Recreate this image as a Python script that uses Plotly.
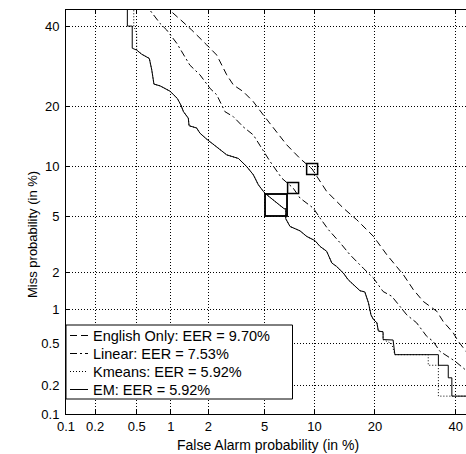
import plotly.graph_objects as go
from statistics import NormalDist

_nd = NormalDist()


def probit(vals):
    return [_nd.inv_cdf(v / 100.0) for v in vals]


# ---- axis ticks (percent) ----
tick_pct = [0.1, 0.2, 0.5, 1, 2, 5, 10, 20, 40]
tick_text = ["0.1", "0.2", "0.5", "1", "2", "5", "10", "20", "40"]
x_range_pct = [0.1, 42.9]
y_range_pct = [0.1, 44.6]

# ---- series (false alarm %, miss %) ----
english_fa = [0.92, 0.98, 1.21, 1.48, 1.94, 2.31, 2.74, 3.06, 3.59, 4.21, 4.91, 5.69, 6.89, 8.27, 9.70,
              11.64, 14.2, 16.5, 19.7, 22.5, 26.3, 28.7, 31.2, 34.8, 36.5, 39.3, 40.7, 42.9, 44.5]
english_miss = [46.5, 44.5, 41.7, 38.9, 34.8, 32.1, 27.1, 24.7, 23.2, 21.0, 18.3, 15.9, 13.1, 11.1, 9.70,
                7.18, 5.65, 4.75, 3.66, 2.71, 1.91, 1.46, 1.17, 0.965, 0.79, 0.626, 0.525, 0.425, 0.36]

linear_fa = [0.62, 0.66, 0.81, 0.92, 1.12, 1.43, 1.72, 2.06, 2.31, 2.66, 3.06, 3.59, 4.21, 4.79, 5.42, 6.43,
             7.53, 8.27, 9.85, 10.73, 11.9, 13.7, 15.3, 17.7, 19.7, 21.7, 23.6, 25.5, 27.1, 29.5, 32.1, 33.8,
             35.6, 38.4, 39.8, 42.1, 44.0]
linear_miss = [47.0, 44.5, 40.7, 38.9, 35.2, 29.5, 27.1, 23.9, 22.5, 18.96, 17.98, 16.1, 14.7, 12.6, 10.7, 8.6,
               7.53, 6.54, 5.65, 4.87, 4.07, 3.29, 2.71, 2.15, 1.80, 1.41, 1.29, 1.06, 0.90, 0.77, 0.583, 0.525,
               0.425, 0.368, 0.342, 0.295, 0.26]

kmeans_fa = [0.47, 0.47, 0.50, 0.50, 0.556, 0.65, 0.683, 0.714, 0.806, 0.98, 1.13, 1.21, 1.27, 1.39, 1.41,
             1.62, 1.72, 1.94, 2.31, 2.74, 3.32, 3.80, 4.21, 4.55, 4.91, 5.08, 6.65, 6.8, 6.8, 7.22, 8.27,
             9.04, 10.06, 10.73, 11.64, 12.4, 13.1, 14.2, 15.0, 16.2, 17.1, 18.0, 18.7, 19.2, 19.7, 20.4,
             20.7, 21.7, 21.7, 23.6, 24.3, 32.5, 32.5, 35.2, 35.2, 50]
kmeans_miss = [48, 40, 38, 33.4, 32.3, 31.2, 28.3, 24.9, 24.5, 23.3, 21.7, 20.3, 18.96, 17.7, 16.3, 15.9,
               15.0, 14.0, 12.8, 11.6, 11.1, 10.0, 9.0, 7.87, 7.18, 6.94, 5.6, 5.6, 4.82, 4.28, 4.0, 3.66,
               3.42, 3.11, 2.87, 2.35, 2.22, 1.97, 1.75, 1.55, 1.43, 1.40, 1.14, 0.90, 0.82, 0.77, 0.65,
               0.64, 0.545, 0.50, 0.395, 0.395, 0.313, 0.313, 0.154, 0.154]

em_fa = [0.41, 0.41, 0.455, 0.455, 0.50, 0.556, 0.65, 0.683, 0.714, 0.806, 0.98, 1.13, 1.21, 1.27, 1.39,
         1.41, 1.62, 1.72, 1.94, 2.31, 2.74, 3.32, 3.80, 4.21, 4.55, 4.91, 5.08, 6.65, 6.8, 6.8, 7.22, 8.27,
         9.04, 10.06, 10.73, 11.64, 12.4, 13.1, 14.2, 15.0, 16.2, 17.1, 18.0, 18.7, 19.2, 19.7, 20.4, 20.7,
         21.7, 21.7, 23.9, 24.3, 35.2, 35.2, 37.9, 37.9, 38.9, 38.9, 50]
em_miss = [48, 40, 40, 33.9, 33.4, 32.3, 31.2, 28.3, 24.9, 24.5, 23.3, 21.7, 20.3, 18.96, 17.7, 16.3, 15.9,
           15.0, 14.0, 12.8, 11.6, 11.1, 10.0, 9.0, 7.87, 7.18, 6.94, 5.6, 5.6, 4.82, 4.28, 4.0, 3.66, 3.42,
           3.11, 2.87, 2.35, 2.22, 1.97, 1.75, 1.55, 1.43, 1.40, 1.14, 0.90, 0.82, 0.77, 0.65, 0.64, 0.545,
           0.54, 0.395, 0.395, 0.313, 0.313, 0.236, 0.236, 0.154, 0.154]

series_names = ["English Only", "Linear", "Kmeans", "EM"]
eer_values = [9.70, 7.53, 5.92, 5.92]

FONT = "Liberation Sans, Arial, Helvetica, sans-serif"

fa_sets = [english_fa, linear_fa, kmeans_fa, em_fa]
miss_sets = [english_miss, linear_miss, kmeans_miss, em_miss]
dashes = ["7px,4px", "7px,3px,2px,3px", "1px,2px", "solid"]
box_sizes = [11, 11, 22, 22]

W, H = 466, 454
ML, MR, MT, MB = 66, 0, 10, 40
PW, PH = W - ML - MR, H - MT - MB


def px_x(px):
    return (px - ML) / PW


def px_y(py):
    return (H - MB - py) / PH


fig = go.Figure()
for name, fa, miss, dash, eer in zip(series_names, fa_sets, miss_sets, dashes, eer_values):
    fig.add_trace(go.Scatter(
        x=probit(fa), y=probit(miss), mode="lines", showlegend=False,
        name=f"{name}: EER = {eer:.2f}%",
        line=dict(color="black", width=1, dash=dash),
    ))
for eer, size in zip(eer_values, box_sizes):
    fig.add_trace(go.Scatter(
        x=probit([eer]), y=probit([eer]), mode="markers", showlegend=False,
        marker=dict(symbol="square-open", size=size, color="black", line=dict(width=1.5, color="black")),
    ))

# ---- legend box drawn in the lower left corner ----
shapes = [dict(type="rect", xref="paper", yref="paper",
               x0=px_x(66), x1=px_x(292.5), y0=px_y(399), y1=px_y(325),
               line=dict(color="black", width=1), fillcolor="white", layer="above")]
annotations = []
row_y = [335.5, 353.5, 371.5, 389.5]
for name, eer, dash, ry in zip(series_names, eer_values, dashes, row_y):
    shapes.append(dict(type="line", xref="paper", yref="paper",
                       x0=px_x(70), x1=px_x(88), y0=px_y(ry), y1=px_y(ry),
                       line=dict(color="black", width=1, dash=dash), layer="above"))
    annotations.append(dict(text=f"{name}: EER = {eer:.2f}%", xref="paper", yref="paper",
                            x=px_x(91), y=px_y(ry), xanchor="left", yanchor="middle",
                            showarrow=False, font=dict(family=FONT, size=14.5, color="black")))

annotations += [
    dict(text="False Alarm probability (in %)", xref="paper", yref="paper",
         x=px_x(268), y=px_y(445), xanchor="center", yanchor="middle", showarrow=False,
         font=dict(family=FONT, size=14, color="black")),
    dict(text="Miss probability (in %)", xref="paper", yref="paper", textangle=-90,
         x=px_x(32), y=px_y(235), xanchor="center", yanchor="middle", showarrow=False,
         font=dict(family=FONT, size=13, color="black")),
]

axis_common = dict(
    tickmode="array", tickvals=probit(tick_pct), ticktext=tick_text,
    showgrid=True, gridcolor="black", gridwidth=1, griddash="1px,2px",
    zeroline=False, showline=True, linecolor="black", linewidth=1,
    ticks="inside", ticklen=4, tickcolor="black",
    tickfont=dict(family=FONT, size=13, color="black"),
)

fig.update_layout(
    width=W, height=H,
    margin=dict(l=ML, r=MR, t=MT, b=MB),
    paper_bgcolor="white", plot_bgcolor="white",
    font=dict(family=FONT, size=13, color="black"),
    xaxis=dict(range=probit(x_range_pct), mirror="ticks", **axis_common),
    yaxis=dict(range=probit(y_range_pct), mirror=False, ticklabelstandoff=3, **axis_common),
    showlegend=False,
    shapes=shapes,
    annotations=annotations,
)

fig.write_html(
    "out.html",
    config={"displayModeBar": False},
    post_script="document.body.style.margin='0';document.body.style.overflow='hidden';",
)
